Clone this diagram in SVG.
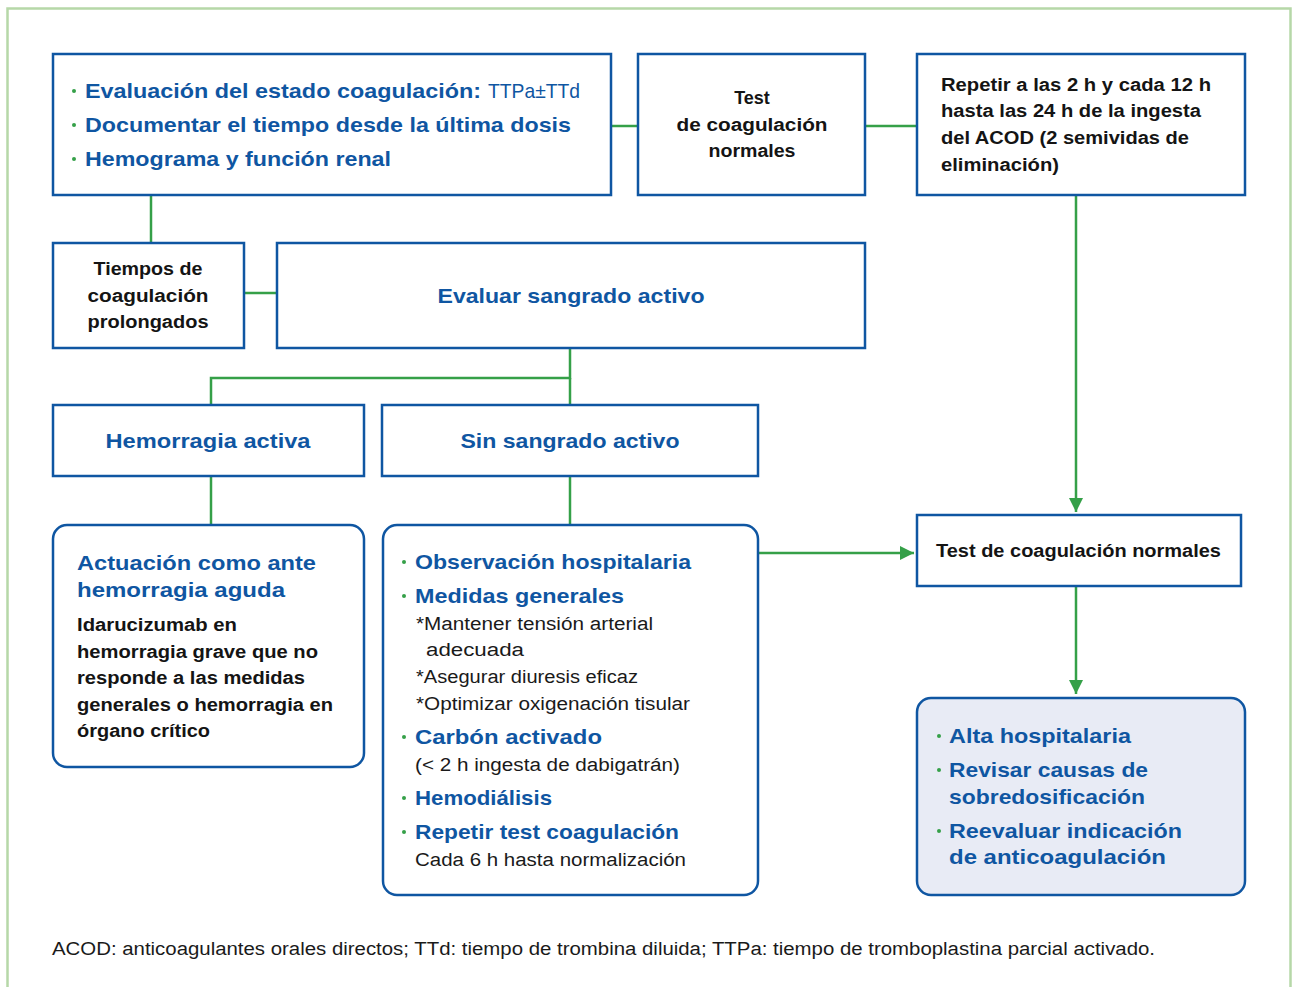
<svg xmlns="http://www.w3.org/2000/svg" width="1292" height="987" viewBox="0 0 1292 987">
<defs>
<marker id="ah" markerUnits="userSpaceOnUse" markerWidth="14" markerHeight="18" viewBox="0 0 14 18" refX="14" refY="9" orient="auto">
<path d="M0,2 L14,9 L0,16 z" fill="#35a048"/>
</marker>
<style>
.box{fill:#fff;stroke:#0f56a2;stroke-width:2.5}
.boxf{fill:#e8ebf5;stroke:#0f56a2;stroke-width:2.5}
.con{fill:none;stroke:#35a048;stroke-width:2.5}
.bh{font-family:"Liberation Sans",Arial,sans-serif;font-weight:bold;font-size:21px;fill:#0f56a2}
.bk{font-family:"Liberation Sans",Arial,sans-serif;font-weight:bold;font-size:18px;fill:#141414}
.rg{font-family:"Liberation Sans",Arial,sans-serif;font-weight:normal;font-size:18px;fill:#1a1a1a}
.rb{font-family:"Liberation Sans",Arial,sans-serif;font-weight:normal;font-size:21px;fill:#0f56a2}
.dot{fill:#35a048}
.mid{text-anchor:middle}
</style>
</defs>
<rect x="0" y="0" width="1292" height="987" fill="#fff"/>
<rect x="7.5" y="8.5" width="1283" height="1000" fill="none" stroke="#b6d8a8" stroke-width="2.5"/>

<g id="connectors">
<line class="con" x1="611" y1="126" x2="638" y2="126"/>
<line class="con" x1="865" y1="126" x2="917" y2="126"/>
<line class="con" x1="151" y1="195" x2="151" y2="243"/>
<line class="con" x1="244" y1="293" x2="277" y2="293"/>
<polyline class="con" points="570,348 570,378 211,378 211,405"/>
<line class="con" x1="570" y1="378" x2="570" y2="405"/>
<line class="con" x1="211" y1="476" x2="211" y2="525"/>
<line class="con" x1="570" y1="476" x2="570" y2="525"/>
<line class="con" x1="1076" y1="195" x2="1076" y2="512" marker-end="url(#ah)"/>
<line class="con" x1="758" y1="553" x2="914" y2="553" marker-end="url(#ah)"/>
<line class="con" x1="1076" y1="586" x2="1076" y2="694" marker-end="url(#ah)"/>
</g>

<g id="node-evaluacion">
<rect class="box" x="53" y="54" width="558" height="141"/>
<circle class="dot" cx="74" cy="91" r="2"/>
<circle class="dot" cx="74" cy="125" r="2"/>
<circle class="dot" cx="74" cy="159" r="2"/>
<text class="bh" x="85" y="98" textLength="396" lengthAdjust="spacingAndGlyphs">Evaluación del estado coagulación:</text>
<text class="rb" x="488" y="98" textLength="92" lengthAdjust="spacingAndGlyphs">TTPa±TTd</text>
<text class="bh" x="85" y="132" textLength="486" lengthAdjust="spacingAndGlyphs">Documentar el tiempo desde la última dosis</text>
<text class="bh" x="85" y="166" textLength="306" lengthAdjust="spacingAndGlyphs">Hemograma y función renal</text>
</g>

<g id="node-test-normales-1">
<rect class="box" x="638" y="54" width="227" height="141"/>
<text class="bk mid" x="752" y="104">Test</text>
<text class="bk mid" x="752" y="131" textLength="151" lengthAdjust="spacingAndGlyphs">de coagulación</text>
<text class="bk mid" x="752" y="157" textLength="87" lengthAdjust="spacingAndGlyphs">normales</text>
</g>

<g id="node-repetir">
<rect class="box" x="917" y="54" width="328" height="141"/>
<text class="bk" x="941" y="91" textLength="270" lengthAdjust="spacingAndGlyphs">Repetir a las 2 h y cada 12 h</text>
<text class="bk" x="941" y="117" textLength="260" lengthAdjust="spacingAndGlyphs">hasta las 24 h de la ingesta</text>
<text class="bk" x="941" y="144" textLength="248" lengthAdjust="spacingAndGlyphs">del ACOD (2 semividas de</text>
<text class="bk" x="941" y="171" textLength="118" lengthAdjust="spacingAndGlyphs">eliminación)</text>
</g>

<g id="node-tiempos">
<rect class="box" x="53" y="243" width="191" height="105"/>
<text class="bk mid" x="148" y="275" textLength="109" lengthAdjust="spacingAndGlyphs">Tiempos de</text>
<text class="bk mid" x="148" y="302" textLength="121" lengthAdjust="spacingAndGlyphs">coagulación</text>
<text class="bk mid" x="148" y="328" textLength="121" lengthAdjust="spacingAndGlyphs">prolongados</text>
</g>

<g id="node-evaluar-sangrado">
<rect class="box" x="277" y="243" width="588" height="105"/>
<text class="bh mid" x="571" y="303" textLength="267" lengthAdjust="spacingAndGlyphs">Evaluar sangrado activo</text>
</g>

<g id="node-hemorragia-activa">
<rect class="box" x="53" y="405" width="311" height="71"/>
<text class="bh mid" x="208" y="448" textLength="205" lengthAdjust="spacingAndGlyphs">Hemorragia activa</text>
</g>

<g id="node-sin-sangrado">
<rect class="box" x="382" y="405" width="376" height="71"/>
<text class="bh mid" x="570" y="448" textLength="219" lengthAdjust="spacingAndGlyphs">Sin sangrado activo</text>
</g>

<g id="node-actuacion">
<rect class="box" x="53" y="525" width="311" height="242" rx="14"/>
<text class="bh" x="77" y="570" textLength="239" lengthAdjust="spacingAndGlyphs">Actuación como ante</text>
<text class="bh" x="77" y="597" textLength="208" lengthAdjust="spacingAndGlyphs">hemorragia aguda</text>
<text class="bk" x="77" y="631" textLength="160" lengthAdjust="spacingAndGlyphs">Idarucizumab en</text>
<text class="bk" x="77" y="658" textLength="241" lengthAdjust="spacingAndGlyphs">hemorragia grave que no</text>
<text class="bk" x="77" y="684" textLength="228" lengthAdjust="spacingAndGlyphs">responde a las medidas</text>
<text class="bk" x="77" y="711" textLength="256" lengthAdjust="spacingAndGlyphs">generales o hemorragia en</text>
<text class="bk" x="77" y="737" textLength="133" lengthAdjust="spacingAndGlyphs">órgano crítico</text>
</g>

<g id="node-medidas">
<rect class="box" x="383" y="525" width="375" height="370" rx="14"/>
<circle class="dot" cx="404" cy="562" r="2"/>
<circle class="dot" cx="404" cy="596" r="2"/>
<circle class="dot" cx="404" cy="737" r="2"/>
<circle class="dot" cx="404" cy="798" r="2"/>
<circle class="dot" cx="404" cy="832" r="2"/>
<text class="bh" x="415" y="569" textLength="276" lengthAdjust="spacingAndGlyphs">Observación hospitalaria</text>
<text class="bh" x="415" y="603" textLength="209" lengthAdjust="spacingAndGlyphs">Medidas generales</text>
<text class="rg" x="416" y="630" textLength="237" lengthAdjust="spacingAndGlyphs">*Mantener tensión arterial</text>
<text class="rg" x="426" y="656" textLength="98" lengthAdjust="spacingAndGlyphs">adecuada</text>
<text class="rg" x="416" y="683" textLength="222" lengthAdjust="spacingAndGlyphs">*Asegurar diuresis eficaz</text>
<text class="rg" x="416" y="710" textLength="274" lengthAdjust="spacingAndGlyphs">*Optimizar oxigenación tisular</text>
<text class="bh" x="415" y="744" textLength="187" lengthAdjust="spacingAndGlyphs">Carbón activado</text>
<text class="rg" x="415" y="771" textLength="265" lengthAdjust="spacingAndGlyphs">(&lt; 2 h ingesta de dabigatrán)</text>
<text class="bh" x="415" y="805" textLength="137" lengthAdjust="spacingAndGlyphs">Hemodiálisis</text>
<text class="bh" x="415" y="839" textLength="264" lengthAdjust="spacingAndGlyphs">Repetir test coagulación</text>
<text class="rg" x="415" y="866" textLength="271" lengthAdjust="spacingAndGlyphs">Cada 6 h hasta normalización</text>
</g>

<g id="node-test-normales-2">
<rect class="box" x="917" y="515" width="324" height="71"/>
<text class="bk" x="936" y="557" textLength="285" lengthAdjust="spacingAndGlyphs">Test de coagulación normales</text>
</g>

<g id="node-alta">
<rect class="boxf" x="917" y="698" width="328" height="197" rx="14"/>
<circle class="dot" cx="939" cy="736" r="2"/>
<circle class="dot" cx="939" cy="770" r="2"/>
<circle class="dot" cx="939" cy="831" r="2"/>
<text class="bh" x="949" y="743" textLength="182" lengthAdjust="spacingAndGlyphs">Alta hospitalaria</text>
<text class="bh" x="949" y="777" textLength="199" lengthAdjust="spacingAndGlyphs">Revisar causas de</text>
<text class="bh" x="949" y="804" textLength="196" lengthAdjust="spacingAndGlyphs">sobredosificación</text>
<text class="bh" x="949" y="838" textLength="233" lengthAdjust="spacingAndGlyphs">Reevaluar indicación</text>
<text class="bh" x="949" y="864" textLength="217" lengthAdjust="spacingAndGlyphs">de anticoagulación</text>
</g>

<text class="rg" x="52" y="955" textLength="1103" lengthAdjust="spacingAndGlyphs">ACOD: anticoagulantes orales directos; TTd: tiempo de trombina diluida; TTPa: tiempo de tromboplastina parcial activado.</text>
</svg>
